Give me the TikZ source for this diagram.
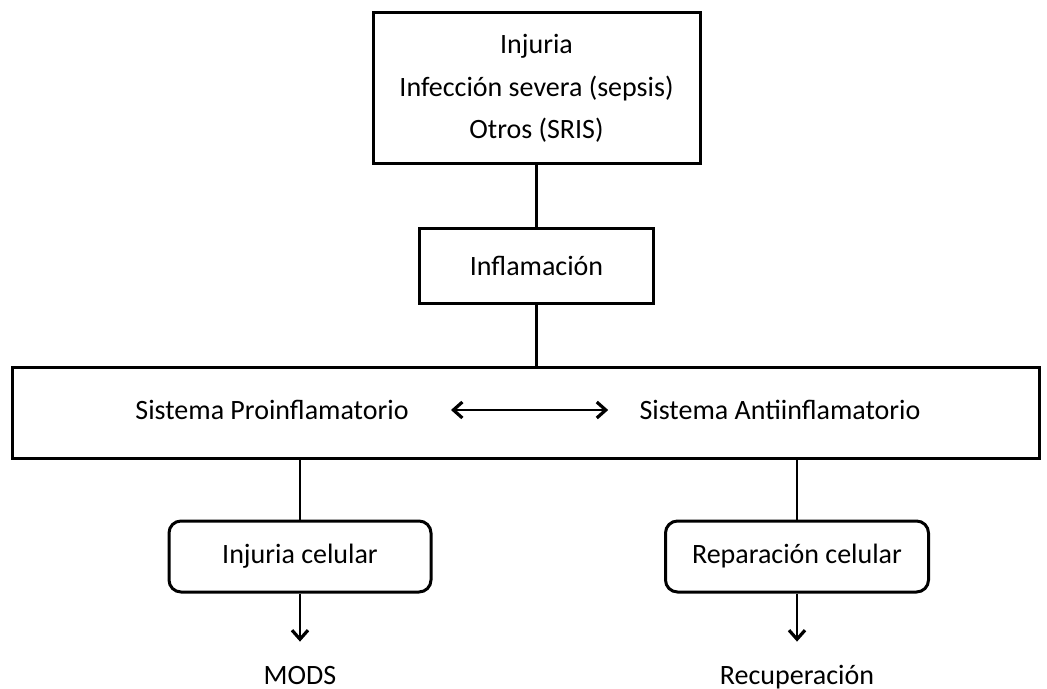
\documentclass[tikz,border=0pt]{standalone}
\usepackage{fontspec}
\setmainfont{Carlito}
\usetikzlibrary{arrows.meta}
\begin{document}
\begin{tikzpicture}[x=0.5pt,y=-0.5pt,
  caja/.style={draw,line width=1.5pt,align=center,inner sep=0pt,font=\fontsize{14}{21.25}\selectfont},
  cajar/.style={caja,rounded corners=6pt},
  texto/.style={inner sep=0pt,text height=9pt,text depth=0pt,anchor=base,font=\fontsize{14}{17}\selectfont},
  linea/.style={line width=1.4pt},
  punta/.tip={Straight Barb[length=4.5pt,width=8pt,line width=1.6pt]},
  flecha/.style={line width=1.4pt,-punta}]

\useasboundingbox (0,0) rectangle (1047,689);

\node[caja,minimum width=163.5pt,minimum height=75.5pt] (v1) at (536.5,88.5) {Injuria\\Infección severa (sepsis)\\Otros (SRIS)};
\node[caja,minimum width=117pt,minimum height=37pt] (v2) at (536.5,266) {Inflamación};
\draw[linea]  (v1) -- (v2);

\node[caja,minimum width=513.5pt,minimum height=45.5pt] (sys) at (525.5,412.5) {};
\draw[linea]  (v2.south) -- (v2.south |- sys.north);

\node[texto] (pro) at (272,419) {Sistema Proinflamatorio};
\node[texto] (anti) at (780,419) {Sistema Antiinflamatorio};
\draw[line width=1.4pt,punta-punta,shorten <=21pt,shorten >=15.5pt]  (pro) -- (anti);

\node[cajar,minimum width=131pt,minimum height=35.5pt] (celL) at (300,556.5) {Injuria celular};
\node[cajar,minimum width=131.5pt,minimum height=35.5pt] (celR) at (797,556.5) {Reparación celular};
\draw[linea]  (celL.north |- sys.south) -- (celL.north);
\draw[linea]  (celR.north |- sys.south) -- (celR.north);

\node[texto] (mods) at (300,684) {MODS};
\node[texto] (recu) at (797,684) {Recuperación};
\draw[flecha,shorten >=12pt]  (celL) -- (mods);
\draw[flecha,shorten >=12pt]  (celR) -- (recu);
\end{tikzpicture}
\end{document}
